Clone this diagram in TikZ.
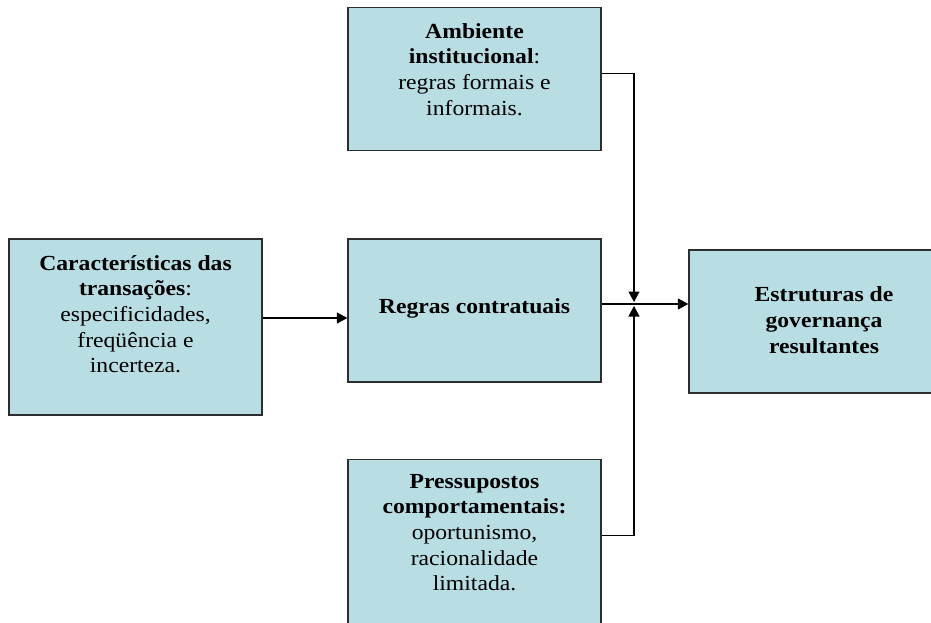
\documentclass[tikz,border=0pt]{standalone}
\usepackage{fontspec}
\setmainfont[FakeStretch=1.1]{Liberation Serif}
\usetikzlibrary{positioning,arrows.meta}
\definecolor{boxblue}{RGB}{184,222,228}
\definecolor{boxline}{RGB}{45,45,45}

\begin{document}
\begin{tikzpicture}[x=1pt,y=-1pt,
	box/.style={rectangle,draw=boxline,line width=1.3pt,fill=boxblue,align=center,inner sep=3pt,
		minimum width=253pt,minimum height=143pt,font=\fontsize{21.5}{25.7}\selectfont},
	tallbox/.style={box,minimum height=176pt},
	paths/.style={-{Triangle[length=10.5pt,width=11pt]},line width=1.2pt}
	] % End box and path styles
\useasboundingbox (0,0) rectangle (931,622);
\clip (0,0) rectangle (931,622);

% boxes
\node [box,text height=16pt,text depth=10.4pt] at (474.5,310.5) (regras) {\textbf{Regras contratuais}};
\node [box,text height=93.1pt,text depth=21.3pt] [above = 87pt of regras] (amb) {\textbf{Ambiente}\\ \textbf{institucional}:\\ regras formais e\\ informais.};
\node [tallbox,text height=118.8pt,text depth=31.8pt] [below = 76pt of regras] (press) {\textbf{Pressupostos}\\ \textbf{comportamentais:}\\ oportunismo,\\ racionalidade\\ limitada.};
\node [tallbox,text height=118.8pt,text depth=27.2pt] at (135.5,327) (trans) {\textbf{Características das}\\ \textbf{transações}:\\ especificidades,\\ freqüência e\\ incerteza.};
\node [box,text height=67.4pt,text depth=4.2pt,minimum width=270pt] at (824,321.5) (estr) {\textbf{Estruturas de}\\ \textbf{governança}\\ \textbf{resultantes}};

% junction of the three flows
\coordinate (junc) at (634,304);
\coordinate (tin) at ([yshift=9pt]trans.east);

% paths
\draw[paths] (tin) -- (tin -| regras.west);
\draw[paths] (regras.east |- junc) -- (junc -| estr.west);
\draw[paths] ([yshift=5.5pt]amb.east) -| ([yshift=2pt]junc);
\draw[paths] ([yshift=12pt]press.east) -| ([yshift=-2pt]junc);

\end{tikzpicture}
\end{document}
